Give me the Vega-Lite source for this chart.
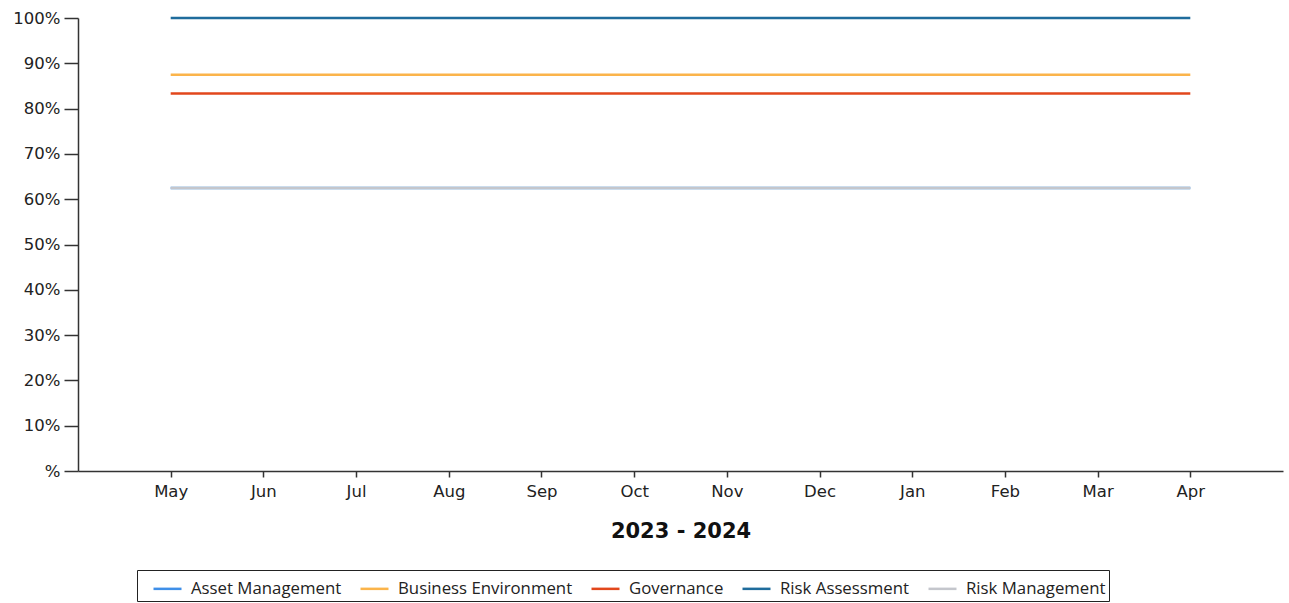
{
  "$schema": "https://vega.github.io/schema/vega-lite/v6.json",
  "width": 1205,
  "height": 453,
  "autosize": {"type": "none"},
  "padding": {"left": 78, "top": 18, "right": 6, "bottom": 132},
  "background": "white",
  "config": {"view": {"stroke": null}},
  "data": {"values": [
    {"month": "May", "series": "Asset Management", "pct": 62.5},
    {"month": "Jun", "series": "Asset Management", "pct": 62.5},
    {"month": "Jul", "series": "Asset Management", "pct": 62.5},
    {"month": "Aug", "series": "Asset Management", "pct": 62.5},
    {"month": "Sep", "series": "Asset Management", "pct": 62.5},
    {"month": "Oct", "series": "Asset Management", "pct": 62.5},
    {"month": "Nov", "series": "Asset Management", "pct": 62.5},
    {"month": "Dec", "series": "Asset Management", "pct": 62.5},
    {"month": "Jan", "series": "Asset Management", "pct": 62.5},
    {"month": "Feb", "series": "Asset Management", "pct": 62.5},
    {"month": "Mar", "series": "Asset Management", "pct": 62.5},
    {"month": "Apr", "series": "Asset Management", "pct": 62.5},
    {"month": "May", "series": "Business Environment", "pct": 87.5},
    {"month": "Jun", "series": "Business Environment", "pct": 87.5},
    {"month": "Jul", "series": "Business Environment", "pct": 87.5},
    {"month": "Aug", "series": "Business Environment", "pct": 87.5},
    {"month": "Sep", "series": "Business Environment", "pct": 87.5},
    {"month": "Oct", "series": "Business Environment", "pct": 87.5},
    {"month": "Nov", "series": "Business Environment", "pct": 87.5},
    {"month": "Dec", "series": "Business Environment", "pct": 87.5},
    {"month": "Jan", "series": "Business Environment", "pct": 87.5},
    {"month": "Feb", "series": "Business Environment", "pct": 87.5},
    {"month": "Mar", "series": "Business Environment", "pct": 87.5},
    {"month": "Apr", "series": "Business Environment", "pct": 87.5},
    {"month": "May", "series": "Governance", "pct": 83.33},
    {"month": "Jun", "series": "Governance", "pct": 83.33},
    {"month": "Jul", "series": "Governance", "pct": 83.33},
    {"month": "Aug", "series": "Governance", "pct": 83.33},
    {"month": "Sep", "series": "Governance", "pct": 83.33},
    {"month": "Oct", "series": "Governance", "pct": 83.33},
    {"month": "Nov", "series": "Governance", "pct": 83.33},
    {"month": "Dec", "series": "Governance", "pct": 83.33},
    {"month": "Jan", "series": "Governance", "pct": 83.33},
    {"month": "Feb", "series": "Governance", "pct": 83.33},
    {"month": "Mar", "series": "Governance", "pct": 83.33},
    {"month": "Apr", "series": "Governance", "pct": 83.33},
    {"month": "May", "series": "Risk Assessment", "pct": 100},
    {"month": "Jun", "series": "Risk Assessment", "pct": 100},
    {"month": "Jul", "series": "Risk Assessment", "pct": 100},
    {"month": "Aug", "series": "Risk Assessment", "pct": 100},
    {"month": "Sep", "series": "Risk Assessment", "pct": 100},
    {"month": "Oct", "series": "Risk Assessment", "pct": 100},
    {"month": "Nov", "series": "Risk Assessment", "pct": 100},
    {"month": "Dec", "series": "Risk Assessment", "pct": 100},
    {"month": "Jan", "series": "Risk Assessment", "pct": 100},
    {"month": "Feb", "series": "Risk Assessment", "pct": 100},
    {"month": "Mar", "series": "Risk Assessment", "pct": 100},
    {"month": "Apr", "series": "Risk Assessment", "pct": 100},
    {"month": "May", "series": "Risk Management", "pct": 62.5},
    {"month": "Jun", "series": "Risk Management", "pct": 62.5},
    {"month": "Jul", "series": "Risk Management", "pct": 62.5},
    {"month": "Aug", "series": "Risk Management", "pct": 62.5},
    {"month": "Sep", "series": "Risk Management", "pct": 62.5},
    {"month": "Oct", "series": "Risk Management", "pct": 62.5},
    {"month": "Nov", "series": "Risk Management", "pct": 62.5},
    {"month": "Dec", "series": "Risk Management", "pct": 62.5},
    {"month": "Jan", "series": "Risk Management", "pct": 62.5},
    {"month": "Feb", "series": "Risk Management", "pct": 62.5},
    {"month": "Mar", "series": "Risk Management", "pct": 62.5},
    {"month": "Apr", "series": "Risk Management", "pct": 62.5}
  ]},
  "mark": {"type": "line", "strokeWidth": 2.5},
  "encoding": {
    "x": {
      "field": "month",
      "type": "ordinal",
      "sort": ["May", "Jun", "Jul", "Aug", "Sep", "Oct", "Nov", "Dec", "Jan", "Feb", "Mar", "Apr"],
      "scale": {"type": "point", "padding": 1},
      "axis": {
        "title": "2023 - 2024",
        "titleFont": "DejaVu Sans",
        "titleFontSize": 21,
        "titleFontWeight": "bold",
        "titleColor": "#111",
        "titlePadding": 21,
        "labelAngle": 0,
        "labelFont": "DejaVu Sans",
        "labelFontSize": 16.5,
        "labelColor": "#222",
        "labelPadding": 6,
        "tickSize": 6,
        "tickColor": "#333",
        "domainColor": "#333",
        "domainWidth": 1.5,
        "tickWidth": 1.5,
        "grid": false
      }
    },
    "y": {
      "field": "pct",
      "type": "quantitative",
      "scale": {"domain": [0, 100], "nice": false},
      "axis": {
        "title": null,
        "values": [0, 10, 20, 30, 40, 50, 60, 70, 80, 90, 100],
        "labelExpr": "datum.value == 0 ? '%' : datum.value + '%'",
        "labelFont": "DejaVu Sans",
        "labelFontSize": 16.5,
        "labelColor": "#222",
        "labelPadding": 4,
        "tickSize": 14,
        "tickColor": "#333",
        "domainColor": "#333",
        "domainWidth": 1.5,
        "tickWidth": 1.5,
        "grid": false
      }
    },
    "color": {
      "field": "series",
      "type": "nominal",
      "scale": {
        "domain": ["Asset Management", "Business Environment", "Governance", "Risk Assessment", "Risk Management"],
        "range": ["#3f8fe8", "#fbb44a", "#e2471c", "#1f6c9c", "#c4c6cc"]
      },
      "legend": {
        "title": null,
        "orient": "none",
        "legendX": 59,
        "legendY": 552,
        "direction": "horizontal",
        "columns": 5,
        "symbolType": "stroke",
        "symbolSize": 784,
        "symbolStrokeWidth": 2.5,
        "symbolOffset": 12,
        "labelFont": "Open Sans",
        "labelFontSize": 16.8,
        "labelColor": "#222",
        "labelOffset": 8,
        "labelLimit": 400,
        "columnPadding": 5,
        "padding": 3,
        "strokeColor": "#222",
        "fillColor": "white"
      }
    }
  }
}
